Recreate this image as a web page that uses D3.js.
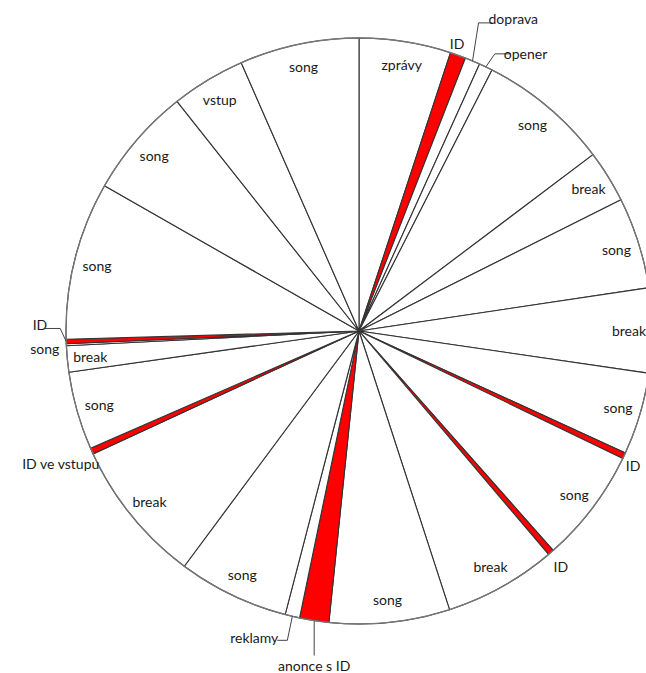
<!DOCTYPE html>
<html>
<head>
<meta charset="utf-8">
<script src="https://cdn.jsdelivr.net/npm/d3@7"></script>
<style>
  html, body { margin: 0; padding: 0; background: #fff; }
  text { font-family: Lato, "Open Sans", sans-serif; font-size: 14px; fill: #1a1a1a; }
</style>
</head>
<body>
<svg id="chart" width="646" height="673"></svg>
<script>
// segment names clockwise from 12 o'clock, durations in seconds (hour = 3600)
const segments = ["zprávy", "ID", "doprava", "opener", "song", "break", "song", "break", "song", "ID",
                  "song", "ID", "break", "song", "anonce s ID", "reklamy", "song", "break", "ID ve vstupu", "song",
                  "break", "song", "ID", "song", "song", "vstup", "song"];
const seconds  = [182, 31, 30, 27, 260, 104, 181, 168, 163, 12,
                  227, 12, 223, 239, 58, 29, 220, 286, 12, 155,
                  52, 4, 9, 313, 219, 147, 237];
const redNames = ["ID", "anonce s ID", "ID ve vstupu"];

// labels placed outside the circle: segment index, text offset from rim, optional leader elbow
const callouts = [
  { i: 1,  dx: -1,  dy: -12, anchor: "middle" },
  { i: 2,  dx: 16,  dy: -42, anchor: "start", elbow: [6, -38], tail: 14 },
  { i: 3,  dx: 18,  dy: -13, anchor: "start", elbow: [9, -13], tail: 16 },
  { i: 9,  dx: 9,   dy: 10,  anchor: "middle" },
  { i: 11, dx: 10,  dy: 14,  anchor: "middle" },
  { i: 14, dx: 0,   dy: 45,  anchor: "middle", elbow: [0, 35], tail: 0 },
  { i: 15, dx: -14, dy: 21,  anchor: "end", elbow: [-5, 24], tail: -10 },
  { i: 18, dx: -31, dy: 12,  anchor: "middle" },
  { i: 21, dx: -7,  dy: 4,   anchor: "end" },
  { i: 22, dx: -19, dy: -17, anchor: "end", elbow: [-6, -13], tail: -16 }
];

const svg = d3.select("#chart");
const cx = 359, cy = 331, R = 293, labelR = 270;

const pie = d3.pie().sort(null).value(d => d);
const arcs = pie(seconds);
const arc = d3.arc().innerRadius(0).outerRadius(R);

const g = svg.append("g").attr("transform", `translate(${cx},${cy})`);

g.selectAll("path.slice")
  .data(arcs)
  .enter()
  .append("path")
  .attr("class", "slice")
  .attr("d", arc)
  .attr("fill", (d, i) => redNames.includes(segments[i]) ? "#ff0000" : "#fff")
  .attr("stroke", "#333")
  .attr("stroke-width", 1.1)
  .attr("stroke-linejoin", "round");

// outer rim slightly lighter, like the original
g.append("circle").attr("r", R).attr("fill", "none")
  .attr("stroke", "#777").attr("stroke-width", 1.3);

const mid = d => (d.startAngle + d.endAngle) / 2;
const polar = (a, r) => [Math.sin(a) * r, -Math.cos(a) * r];

// inside labels
const outside = new Set(callouts.map(c => c.i));
g.selectAll("text.inner")
  .data(arcs.filter((d, i) => !outside.has(i)))
  .enter()
  .append("text")
  .attr("class", "inner")
  .attr("x", d => polar(mid(d), labelR)[0])
  .attr("y", d => polar(mid(d), labelR)[1])
  .attr("text-anchor", "middle")
  .attr("dominant-baseline", "central")
  .text(d => segments[d.index]);

// outside labels with leader lines
callouts.forEach(c => {
  const [ax, ay] = polar(mid(arcs[c.i]), R);
  if (c.elbow) {
    const ex = ax + c.elbow[0], ey = ay + c.elbow[1];
    g.append("polyline")
      .attr("points", `${ax},${ay} ${ex},${ey} ${ex + c.tail},${ey}`)
      .attr("fill", "none")
      .attr("stroke", "#444")
      .attr("stroke-width", 1);
  }
  g.append("text")
    .attr("x", ax + c.dx)
    .attr("y", ay + c.dy)
    .attr("text-anchor", c.anchor)
    .attr("dominant-baseline", "central")
    .text(segments[c.i]);
});
</script>
</body>
</html>
